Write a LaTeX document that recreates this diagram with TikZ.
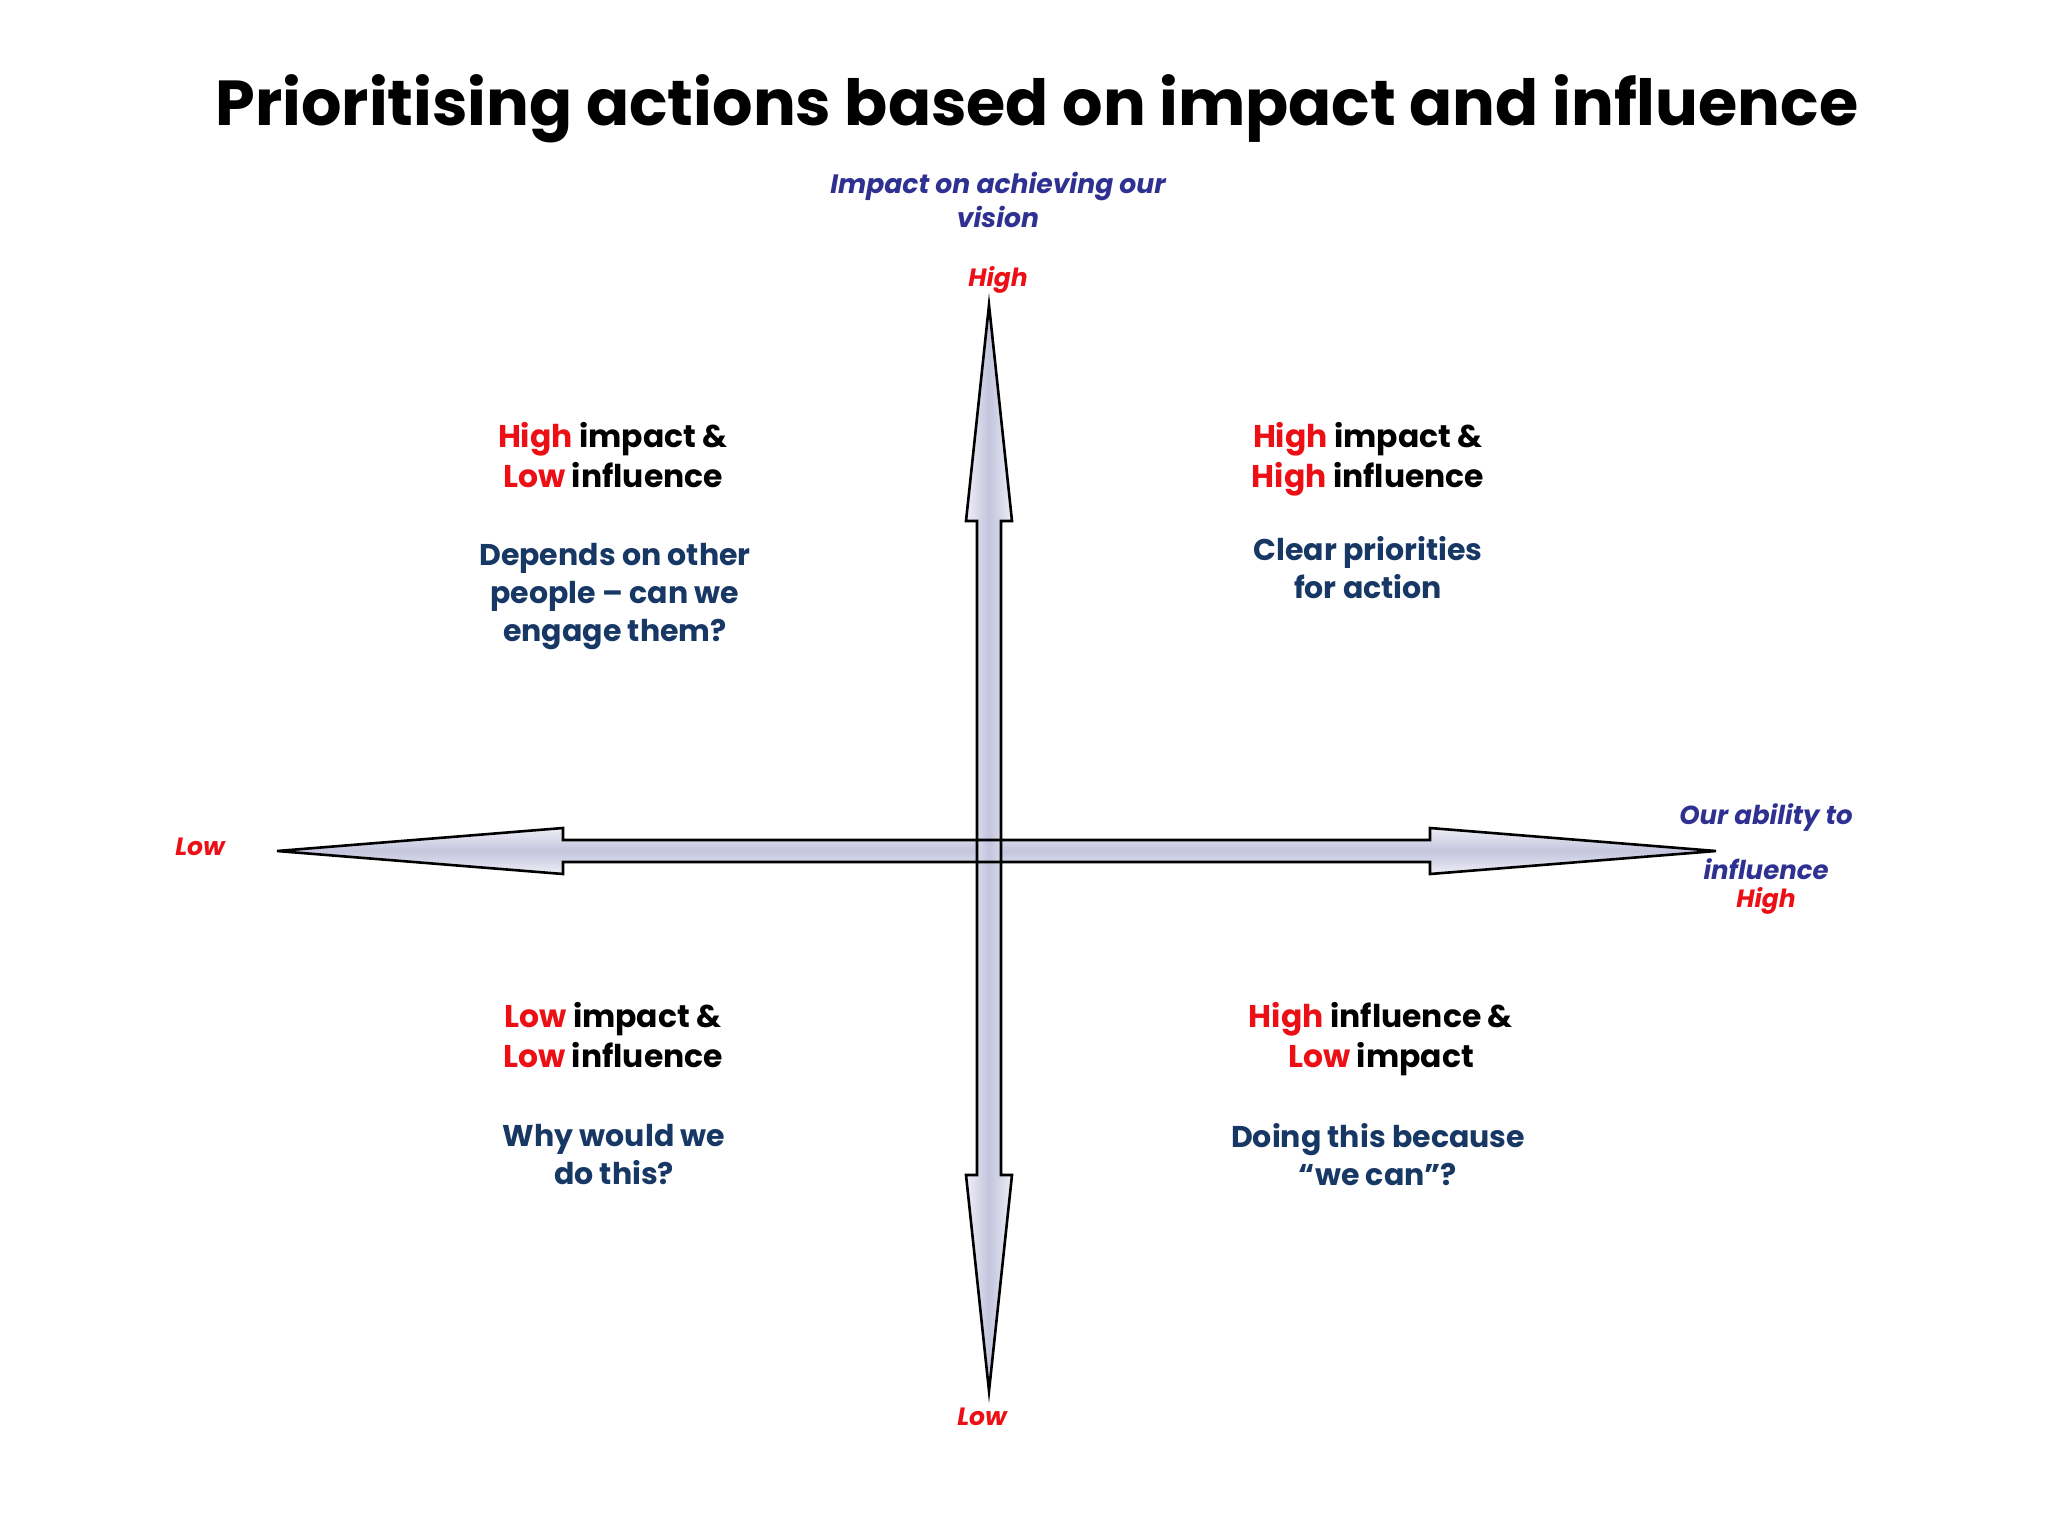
\documentclass[tikz,border=0pt]{standalone}
\usepackage{fontspec}
\setmainfont{Poppins}
\usetikzlibrary{calc}
\definecolor{hired}{RGB}{236,16,22}
\definecolor{axisblue}{RGB}{46,49,146}
\definecolor{navy}{RGB}{23,55,100}
\definecolor{arrowmid}{RGB}{196,196,222}
\definecolor{arrowedge}{RGB}{238,238,246}
\tikzset{
  titletext/.style={font=\bfseries\fontsize{31.8}{40}\selectfont, text=black},
  axislabel/.style={font=\bfseries\itshape\fontsize{13.3}{17}\selectfont, text=axisblue, align=center},
  sidelabel/.style={font=\bfseries\itshape\fontsize{13}{17}\selectfont, text=axisblue, align=center},
  endlabel/.style={font=\bfseries\itshape\fontsize{12.5}{16}\selectfont, text=hired},
  quadhead/.style={font=\bfseries\fontsize{15.7}{20}\selectfont, text=black, align=center},
  quadbody/.style={font=\bfseries\fontsize{15}{19}\selectfont, text=navy, align=center},
  arrowline/.style={draw=black, line width=1.3pt, line join=miter},
}
\newcommand{\hi}[1]{\textcolor{hired}{#1}}
\begin{document}
\begin{tikzpicture}[x=0.5pt,y=-0.5pt]
\useasboundingbox (0,0) rectangle (2048,1536);
\fill[white] (0,0) rectangle (2048,1536);

% title
\node[titletext] (title) at (1037,109) {Prioritising actions based on impact and influence};

% arrows: tips as named coordinates
\coordinate (vtop) at (989,305);
\coordinate (vbot) at (989,1391);
\coordinate (hleft) at (277,851);
\coordinate (hright) at (1716,851);

% horizontal arrow fill
\path[top color=arrowedge, bottom color=arrowedge, middle color=arrowmid]
  (hleft) -- (563,828) -- (563,840) -- (1430,840) -- (1430,828) -- (hright)
  -- (1430,874) -- (1430,862) -- (563,862) -- (563,874) -- cycle;
% vertical arrow fill
\path[left color=arrowedge, right color=arrowedge, middle color=arrowmid]
  (vtop) -- (1012,521) -- (1001,521) -- (1001,1175) -- (1012,1175) -- (vbot)
  -- (966,1175) -- (977,1175) -- (977,521) -- (966,521) -- cycle;
% outlines
\draw[arrowline]
  (hleft) -- (563,828) -- (563,840) -- (1430,840) -- (1430,828) -- (hright)
  -- (1430,874) -- (1430,862) -- (563,862) -- (563,874) -- cycle;
\draw[arrowline]
  (vtop) -- (1012,521) -- (1001,521) -- (1001,1175) -- (1012,1175) -- (vbot)
  -- (966,1175) -- (977,1175) -- (977,521) -- (966,521) -- cycle;

% axis labels
\node[axislabel] (vlabel) at (998,200) {Impact on achieving our\\vision};
\node[endlabel] (vhigh) at (998,280) {High};
\node[endlabel] (vlow) at (982,1417) {Low};
\node[endlabel] (hlow) at (200,847) {Low};
\node[sidelabel] (hlab1) at (1766,818) {Our ability to};
\node[sidelabel] (hlab2) at (1766,869) {influence};
\node[endlabel] (hhigh) at (1766,901) {High};

% quadrants
\node[quadhead] (tlh) at (613,455) {\hi{High} impact \&\\\hi{Low} influence};
\node[quadbody] (tlb) at (615,597) {Depends on other\\people -- can we\\engage them?};

\node[quadhead] (trh) at (1368,459) {\hi{High} impact \&\\\hi{High} influence};
\node[quadbody] (trb) at (1368,568) {Clear priorities\\for action};

\node[quadhead] (blh) at (613,1035) {\hi{Low} impact \&\\\hi{Low} influence};
\node[quadbody] (blb) at (614,1155) {Why would we\\do this?};

\node[quadhead] (brh) at (1381,1039) {\hi{High} influence \&\\\hi{Low} impact};
\node[quadbody] (brb) at (1378,1155) {Doing this because\\“we can”?};
\end{tikzpicture}
\end{document}
